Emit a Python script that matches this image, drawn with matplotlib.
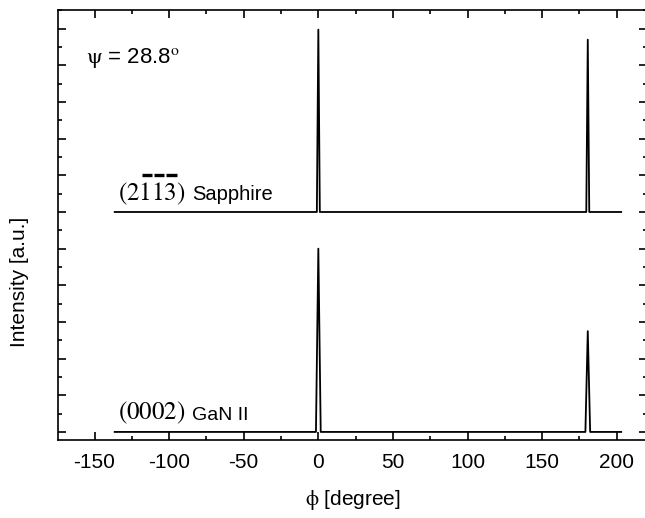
import matplotlib.pyplot as plt
from matplotlib.ticker import MultipleLocator

plt.rcParams['font.family'] = ['Liberation Sans', 'DejaVu Sans']
plt.rcParams['axes.unicode_minus'] = False
plt.rcParams['mathtext.fontset'] = 'stix'

# phi scans, intensity in arbitrary units (GaN at 0, sapphire shifted up by 12)
phi_gan = [-136.5, -1.6, 0.0, 1.6, 179.0, 180.6, 182.2, 203.0]
int_gan = [0.0, 0.0, 10.0, 0.0, 0.0, 5.5, 0.0, 0.0]

phi_sap = [-136.5, -1.0, 0.0, 1.0, 179.6, 180.6, 181.6, 203.0]
int_sap = [12.0, 12.0, 21.95, 12.0, 12.0, 21.4, 12.0, 12.0]

fig = plt.figure(figsize=(6.45, 5.18), dpi=100)
ax = fig.add_axes([58 / 645, 1 - 440 / 518, 589 / 645, 430 / 518])

ax.plot(phi_gan, int_gan, color='black', lw=1.3)
ax.plot(phi_sap, int_sap, color='black', lw=1.3)

ax.set_xlim(-174.5, 220.3)
ax.set_ylim(-0.44, 23.02)

ax.xaxis.set_major_locator(MultipleLocator(50))
ax.xaxis.set_minor_locator(MultipleLocator(25))
ax.yaxis.set_major_locator(MultipleLocator(2))
ax.yaxis.set_minor_locator(MultipleLocator(1))
ax.tick_params(which='both', direction='in', top=True, right=True, width=1.2)
ax.tick_params(which='major', length=6)
ax.tick_params(which='minor', length=3)
ax.tick_params(axis='x', labelsize=15, pad=9)
ax.tick_params(axis='y', labelleft=False)
for s in ax.spines.values():
    s.set_linewidth(1.2)

ax.set_xlabel(r'$\mathrm{\phi}$ [degree]', fontsize=15, labelpad=12)
ax.set_ylabel('Intensity [a.u.]', fontsize=15)
ax.yaxis.set_label_coords(-0.049, 0.367)

ax.text(-155.5, 20.4, r'$\mathrm{\psi}$ = 28.8$^{\mathrm{o}}$', fontsize=16, va='center')
ax.text(-134, 12.25, r'$(2113)$', fontsize=18, va='bottom')
# overbars on the three Miller indices
for x0, x1 in [(142, 152), (154, 164), (166, 177)]:
    ax.plot([(x0 - 58) / 589, (x1 - 58) / 589], [(440 - 174.5) / 430] * 2,
            transform=ax.transAxes, color='black', lw=2.4, solid_capstyle='butt')
ax.text(-84.5, 12.45, 'Sapphire', fontsize=14.5, va='bottom')
ax.text(-134, 0.35, r'$(0002)$', fontsize=18, va='bottom')
ax.text(-84.5, 0.45, 'GaN II', fontsize=14, va='bottom')

fig.savefig('out.png', dpi=100)
